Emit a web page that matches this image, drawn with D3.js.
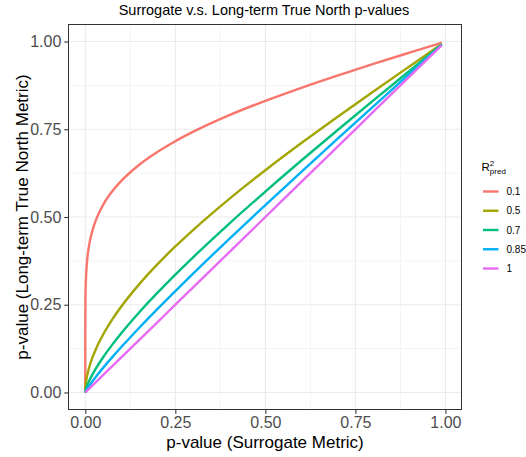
<!DOCTYPE html>
<html>
<head>
<meta charset="utf-8">
<script src="https://cdn.jsdelivr.net/npm/d3@7/dist/d3.min.js"></script>
<style>
  html, body { margin: 0; padding: 0; background: #fff; }
  svg { display: block; font-family: "Liberation Sans", Arial, Helvetica, sans-serif; }
</style>
</head>
<body>
<svg id="chart" width="526" height="457"></svg>
<script>
// ---- data ----
const pSurrogate = [0, 0.0001, 0.001, 0.005, 0.01, 0.02, 0.03, 0.05, 0.075, 0.1, 0.15, 0.2, 0.25, 0.3, 0.4, 0.5, 0.6, 0.7, 0.8, 0.9, 0.99];
const seriesNames = ["0.1", "0.5", "0.7", "0.85", "1"];
const pLong_01  = [0, 0.2186, 0.2981, 0.3747, 0.4154, 0.4620, 0.4926, 0.5354, 0.5734, 0.6029, 0.6490, 0.6852, 0.7160, 0.7431, 0.7902, 0.8311, 0.8683, 0.9031, 0.9362, 0.9683, 0.9968];
const pLong_05  = [0, 0.0059, 0.0200, 0.0471, 0.0685, 0.1000, 0.1249, 0.1658, 0.2080, 0.2448, 0.3087, 0.3648, 0.4160, 0.4636, 0.5518, 0.6334, 0.7108, 0.7852, 0.8579, 0.9292, 0.9929];
const pLong_07  = [0, 0.0011, 0.0059, 0.0189, 0.0312, 0.0516, 0.0694, 0.1010, 0.1363, 0.1687, 0.2284, 0.2836, 0.3359, 0.3859, 0.4814, 0.5725, 0.6609, 0.7471, 0.8322, 0.9162, 0.9916];
const pLong_085 = [0, 0.0003, 0.0024, 0.0097, 0.0176, 0.0320, 0.0454, 0.0708, 0.1007, 0.1294, 0.1845, 0.2374, 0.2889, 0.3393, 0.4378, 0.5340, 0.6287, 0.7224, 0.8154, 0.9077, 0.9908];
const pLong_1   = [0, 0.0001, 0.001, 0.005, 0.01, 0.02, 0.03, 0.05, 0.075, 0.1, 0.15, 0.2, 0.25, 0.3, 0.4, 0.5, 0.6, 0.7, 0.8, 0.9, 0.99];
const seriesColors = ["#F8766D", "#A3A500", "#00BF7D", "#00B0F6", "#E76BF3"];
const xTicks = [0, 0.25, 0.5, 0.75, 1];
const yTicks = [0, 0.25, 0.5, 0.75, 1];
const xMinor = [0.125, 0.375, 0.625, 0.875];
const yMinor = [0.125, 0.375, 0.625, 0.875];
const titleText = "Surrogate v.s. Long-term True North p-values";
const xTitle = "p-value (Surrogate Metric)";
const yTitle = "p-value (Long-term True North Metric)";

const allY = [pLong_01, pLong_05, pLong_07, pLong_085, pLong_1];
const series = seriesNames.map((name, i) => ({
  name, color: seriesColors[i],
  values: pSurrogate.map((x, j) => ({ x, y: allY[i][j] }))
}));

// ---- layout ----
const svg = d3.select("#chart");
const panel = { left: 68, right: 462, top: 24, bottom: 410 };
const x = d3.scaleLinear().domain([-0.048, 1.046]).range([panel.left, panel.right]);
const y = d3.scaleLinear().domain([-0.05, 1.05]).range([panel.bottom, panel.top]);

// panel background
svg.append("rect").attr("x", panel.left).attr("y", panel.top)
  .attr("width", panel.right - panel.left).attr("height", panel.bottom - panel.top)
  .attr("fill", "#fff");

// grid
const g = svg.append("g");
g.selectAll(".xminor").data(xMinor).join("line")
  .attr("x1", d => x(d)).attr("x2", d => x(d)).attr("y1", panel.top).attr("y2", panel.bottom)
  .attr("stroke", "#EBEBEB").attr("stroke-width", 0.55);
g.selectAll(".yminor").data(yMinor).join("line")
  .attr("y1", d => y(d)).attr("y2", d => y(d)).attr("x1", panel.left).attr("x2", panel.right)
  .attr("stroke", "#EBEBEB").attr("stroke-width", 0.55);
g.selectAll(".xmajor").data(xTicks).join("line")
  .attr("x1", d => x(d)).attr("x2", d => x(d)).attr("y1", panel.top).attr("y2", panel.bottom)
  .attr("stroke", "#EBEBEB").attr("stroke-width", 1.1);
g.selectAll(".ymajor").data(yTicks).join("line")
  .attr("y1", d => y(d)).attr("y2", d => y(d)).attr("x1", panel.left).attr("x2", panel.right)
  .attr("stroke", "#EBEBEB").attr("stroke-width", 1.1);

// lines
const line = d3.line().x(d => x(d.x)).y(d => y(d.y)).curve(d3.curveMonotoneX);
svg.append("g").selectAll("path").data(series).join("path")
  .attr("d", d => line(d.values))
  .attr("fill", "none")
  .attr("stroke", d => d.color)
  .attr("stroke-width", 2.4)
  .attr("stroke-linejoin", "round");

// panel border
svg.append("rect").attr("x", panel.left + 0.5).attr("y", panel.top + 0.5)
  .attr("width", panel.right - panel.left - 1).attr("height", panel.bottom - panel.top - 1)
  .attr("fill", "none").attr("stroke", "#333333").attr("stroke-width", 1);

// axes
const fmt = d3.format(".2f");
const xAxis = svg.append("g").attr("transform", `translate(0,${panel.bottom})`)
  .call(d3.axisBottom(x).tickValues(xTicks).tickFormat(fmt).tickSize(3.7).tickPadding(3));
const yAxis = svg.append("g").attr("transform", `translate(${panel.left},0)`)
  .call(d3.axisLeft(y).tickValues(yTicks).tickFormat(fmt).tickSize(3.7).tickPadding(3));
[xAxis, yAxis].forEach(a => {
  a.select(".domain").remove();
  a.selectAll(".tick line").attr("stroke", "#333333").attr("stroke-width", 1.1);
  a.selectAll(".tick text").attr("fill", "#4D4D4D").attr("font-size", 16)
    .attr("font-family", "'Liberation Sans', Arial, sans-serif");
});

// titles
svg.append("text").attr("x", 264).attr("y", 15).attr("text-anchor", "middle")
  .attr("font-size", 14.5).attr("fill", "#000").text(titleText);
svg.append("text").attr("x", (panel.left + panel.right) / 2).attr("y", 448)
  .attr("text-anchor", "middle").attr("font-size", 17).attr("fill", "#000").text(xTitle);
svg.append("text").attr("transform", `translate(28,${(panel.top + panel.bottom) / 2}) rotate(-90)`)
  .attr("text-anchor", "middle").attr("font-size", 17).attr("fill", "#000").text(yTitle);

// legend
const lg = svg.append("g");
const lt = lg.append("text").attr("x", 481.5).attr("y", 171).attr("font-size", 11.5).attr("fill", "#000");
lt.append("tspan").text("R");
lt.append("tspan").attr("font-size", 8).attr("dy", -5.5).text("2");
lt.append("tspan").attr("font-size", 8).attr("dx", -4.4).attr("dy", 8.5).text("pred");

const legY = d3.scalePoint().domain(seriesNames).range([191.5, 268.5]);
const items = lg.selectAll(".item").data(series).join("g")
  .attr("transform", d => `translate(0,${legY(d.name)})`);
items.append("line").attr("x1", 483).attr("x2", 498.5).attr("y1", 0).attr("y2", 0)
  .attr("stroke", d => d.color).attr("stroke-width", 2.4);
items.append("text").attr("x", 506.5).attr("y", 0).attr("dy", "0.35em")
  .attr("font-size", 10).attr("fill", "#000").text(d => d.name);
</script>
</body>
</html>
